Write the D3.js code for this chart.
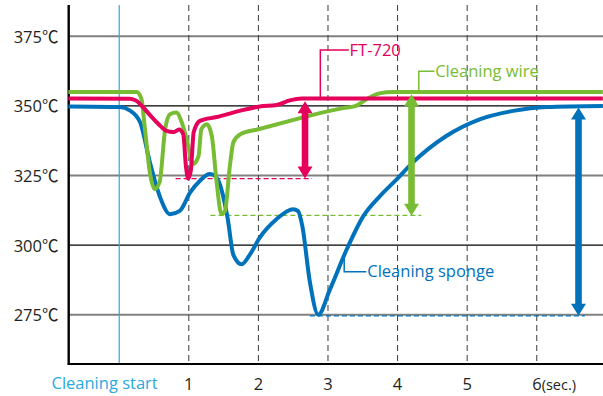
<!DOCTYPE html>
<html>
<head>
<meta charset="utf-8">
<script src="https://cdn.jsdelivr.net/npm/d3@7"></script>
<style>
  html, body { margin: 0; padding: 0; background: #fff; }
  svg { display: block; }
  text { font-family: "Open Sans", "Noto Sans CJK JP", sans-serif; }
</style>
</head>
<body>
<svg id="chart" width="603" height="396"></svg>
<script>
// ---------- data ----------
const yTicks = [275, 300, 325, 350, 375];
const xTicks = [1, 2, 3, 4, 5, 6];
const xTickLabels = ["1", "2", "3", "4", "5", "6"];
const xUnit = "(sec.)";
const startLabel = "Cleaning start";
const seriesNames = ["Cleaning sponge", "Cleaning wire", "FT-720"];

// Cleaning sponge (blue)
const spongeTime = [-0.73, 0.01, 0.15, 0.30, 0.44, 0.58, 0.73, 0.87, 1.02, 1.16, 1.30, 1.37, 1.45, 1.56, 1.64, 1.76, 1.88, 2.02, 2.26, 2.50, 2.57, 2.63, 2.74, 2.86, 3.03, 3.27, 3.51, 3.75, 3.99, 4.22, 4.70, 5.18, 5.66, 6.14, 6.95];
const spongeTemp = [349.8, 349.6, 348.4, 344.1, 329.8, 317.7, 311.1, 312.3, 318.9, 323.1, 325.5, 325.0, 321.5, 309.3, 296.5, 293.1, 296.7, 302.7, 309.3, 312.9, 312.2, 307.0, 286.7, 275.0, 284.2, 298.5, 310.5, 317.7, 323.7, 329.7, 339.2, 345.2, 348.2, 349.6, 350.0];

// Cleaning wire (green)
const wireTime = [-0.73, 0.25, 0.32, 0.37, 0.44, 0.51, 0.58, 0.66, 0.73, 0.82, 0.90, 0.97, 1.06, 1.14, 1.18, 1.26, 1.33, 1.40, 1.47, 1.52, 1.59, 1.64, 1.74, 2.00, 2.60, 2.88, 3.22, 3.39, 3.56, 3.74, 3.93, 6.95];
const wireTemp = [355.0, 355.0, 352.4, 341.6, 326.1, 320.1, 322.6, 341.6, 347.0, 347.6, 344.0, 338.0, 329.1, 332.0, 341.6, 343.4, 339.2, 322.5, 311.1, 312.3, 328.4, 336.9, 339.8, 341.6, 345.6, 347.4, 349.2, 349.9, 352.5, 354.5, 355.0, 355.0];

// FT-720 (magenta)
const ftTime = [-0.73, 0.15, 0.25, 0.34, 0.45, 0.56, 0.68, 0.78, 0.86, 0.92, 0.96, 0.99, 1.03, 1.07, 1.16, 1.40, 1.73, 2.02, 2.26, 2.45, 2.62, 6.95];
const ftTemp = [352.7, 352.6, 351.8, 349.6, 346.5, 343.6, 341.0, 340.6, 341.5, 339.8, 328.0, 323.9, 327.0, 340.5, 344.6, 346.0, 348.2, 349.8, 350.3, 352.0, 352.7, 352.7];

// temperature-drop arrows (FT-720, wire, sponge)
const arrowTime = [2.67, 4.20, 6.60];
const arrowHigh = [351.7, 354.2, 349.4];
const arrowLow = [323.9, 310.5, 274.6];

// minimum reference lines (FT-720, wire, sponge)
const refTemp = [323.9, 310.7, 274.6];
const refStart = [0.81, 1.31, 2.74];
const refEnd = [2.77, 4.34, 6.69];

// ---------- layout ----------
const W = 603, H = 396;
const plot = { left: 68.7, right: 603, top: 5, bottom: 364 };
const colors = { sponge: "#0072BC", wire: "#78BC33", ft: "#E4005B", start: "#29A9E0", text: "#231F20" };

const x = d3.scaleLinear().domain([-0.726, 6.952]).range([plot.left, plot.right]);
const y = d3.scaleLinear().domain([257.29, 386.24]).range([plot.bottom, plot.top]);

const svg = d3.select("#chart");

// horizontal grid lines
const gridG = svg.append("g");
gridG.selectAll("line").data(yTicks).join("line")
  .attr("x1", plot.left).attr("x2", plot.right)
  .attr("y1", d => y(d)).attr("y2", d => y(d))
  .attr("stroke", d => (d % 50 === 0) ? "#000" : "#808080")
  .attr("stroke-width", d => (d % 50 === 0) ? 1.2 : 2);

// vertical dashed lines
svg.append("g").selectAll("line").data(xTicks).join("line")
  .attr("x1", d => x(d)).attr("x2", d => x(d))
  .attr("y1", plot.top).attr("y2", plot.bottom)
  .attr("stroke", "#3a3a3a").attr("stroke-width", 1)
  .attr("stroke-dasharray", "6,4");

// cleaning start line
svg.append("line")
  .attr("x1", x(0)).attr("x2", x(0))
  .attr("y1", plot.top).attr("y2", plot.bottom)
  .attr("stroke", colors.start).attr("stroke-width", 1.2);

// axes lines
svg.append("line").attr("x1", plot.left).attr("x2", plot.left)
  .attr("y1", plot.top).attr("y2", plot.bottom + 1)
  .attr("stroke", "#000").attr("stroke-width", 2.4);
svg.append("line").attr("x1", plot.left - 1).attr("x2", plot.right)
  .attr("y1", plot.bottom).attr("y2", plot.bottom)
  .attr("stroke", "#000").attr("stroke-width", 2);

// y labels
svg.append("g").selectAll("text").data(yTicks).join("text")
  .attr("x", 58.5).attr("y", d => y(d) + 6.5)
  .attr("text-anchor", "end")
  .attr("font-size", 16.5).attr("fill", colors.text)
  .text(d => d + "℃");

// x labels
const xl = svg.append("g");
xl.selectAll("text.tick").data(xTicks.slice(0, 5)).join("text")
  .attr("class", "tick")
  .attr("x", d => x(d)).attr("y", 389.5)
  .attr("text-anchor", "middle")
  .attr("font-size", 16.5).attr("fill", colors.text)
  .text((d, i) => xTickLabels[i]);
const six = xl.append("text")
  .attr("x", x(6) - 4.5).attr("y", 389.5)
  .attr("fill", colors.text);
six.append("tspan").attr("font-size", 16.5).text(xTickLabels[5]);
six.append("tspan").attr("font-size", 14.5).text(xUnit);

svg.append("text")
  .attr("x", 51.5).attr("y", 389)
  .attr("font-size", 16.5).attr("fill", colors.start)
  .text(startLabel);

// reference dashed lines
const refColors = [colors.ft, colors.wire, colors.sponge];
svg.append("g").selectAll("line").data(refTemp).join("line")
  .attr("x1", (d, i) => x(refStart[i])).attr("x2", (d, i) => x(refEnd[i]))
  .attr("y1", d => y(d)).attr("y2", d => y(d))
  .attr("stroke", (d, i) => refColors[i]).attr("stroke-width", 1.3)
  .attr("stroke-dasharray", "5,3");

// curves
const line = d3.line().x(d => x(d[0])).y(d => y(d[1])).curve(d3.curveMonotoneX);
const series = [
  { time: spongeTime, temp: spongeTemp, color: colors.sponge },
  { time: wireTime, temp: wireTemp, color: colors.wire },
  { time: ftTime, temp: ftTemp, color: colors.ft }
];
svg.append("g").selectAll("path").data(series).join("path")
  .attr("d", s => line(s.time.map((t, i) => [t, s.temp[i]])))
  .attr("fill", "none")
  .attr("stroke", s => s.color)
  .attr("stroke-width", 4)
  .attr("stroke-linejoin", "round");

// double-headed arrows
function arrowPath(t, hi, lo) {
  const cx = x(t), y1 = y(hi), y2 = y(lo);
  const hl = 12, hw = 7.5, sw = 3.3;
  return [
    [cx, y1], [cx + hw, y1 + hl], [cx + sw, y1 + hl],
    [cx + sw, y2 - hl], [cx + hw, y2 - hl], [cx, y2],
    [cx - hw, y2 - hl], [cx - sw, y2 - hl], [cx - sw, y1 + hl],
    [cx - hw, y1 + hl]
  ].map(p => p.join(",")).join(" ");
}
svg.append("g").selectAll("polygon").data(arrowTime).join("polygon")
  .attr("points", (d, i) => arrowPath(d, arrowHigh[i], arrowLow[i]))
  .attr("fill", (d, i) => refColors[i]);

// labels with leader lines
const labels = [
  { name: seriesNames[2], color: colors.ft, pts: [[3.30, 370.1], [2.89, 370.1], [2.89, 352.7]], tx: 3.31, ty: 368.0 },
  { name: seriesNames[1], color: colors.wire, pts: [[4.53, 362.4], [4.305, 362.4], [4.305, 355.0]], tx: 4.54, ty: 360.2 },
  { name: seriesNames[0], color: colors.sponge, pts: [[3.233, 297.5], [3.233, 290.4], [3.55, 290.4]], tx: 3.565, ty: 288.4 }
];
const lg = svg.append("g");
lg.selectAll("path").data(labels).join("path")
  .attr("d", d => d3.line().x(p => x(p[0])).y(p => y(p[1]))(d.pts))
  .attr("fill", "none").attr("stroke", d => d.color).attr("stroke-width", 1.5);
lg.selectAll("text").data(labels).join("text")
  .attr("x", d => x(d.tx)).attr("y", d => y(d.ty))
  .attr("font-size", 16.5).attr("fill", d => d.color)
  .text(d => d.name);
</script>
</body>
</html>
